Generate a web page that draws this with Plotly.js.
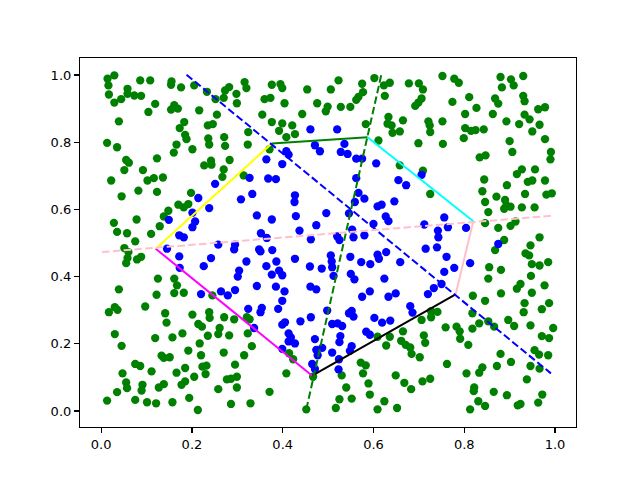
<!DOCTYPE html>
<html>
<head>
<meta charset="utf-8">
<script src="https://cdn.plot.ly/plotly-3.0.1.min.js"></script>
<style>html,body{margin:0;padding:0;background:#fff;}#chart{width:640px;height:480px;}</style>
</head>
<body>
<div id="chart"></div>
<script>
// Outside points (green)
const greenX = [
0.014,0.029,0.016,0.017,0.029,0.044,0.058,0.058,0.073,0.088,0.086,0.108,0.155,0.154,0.176,0.205,0.233,0.119,0.104,0.154,0.161,0.169,0.216,0.039,0.183,0.173,0.185,0.188,0.166,0.160,0.201,0.013,0.035,0.055,0.061,0.051,0.123,0.092,0.102,0.116,0.136,0.227,
0.252,0.273,0.282,0.270,0.298,0.299,0.316,0.320,0.376,0.395,0.399,0.360,0.373,0.404,0.454,0.476,0.495,0.499,0.443,0.355,0.255,0.235,0.246,0.376,0.399,0.421,0.392,0.427,0.408,0.324,0.271,0.273,0.236,0.238,0.323,0.371,0.283,0.242,0.243,0.270,0.267,0.314,
0.523,0.506,0.575,0.602,0.623,0.636,0.577,0.567,0.562,0.625,0.678,0.700,0.709,0.752,0.706,0.699,0.692,0.528,0.549,0.583,0.633,0.631,0.640,0.665,0.642,0.658,0.721,0.724,0.725,0.752,0.699,0.753,0.611,0.658,0.709,
0.778,0.788,0.880,0.903,0.930,0.883,0.909,0.811,0.774,0.827,0.868,0.875,0.930,0.933,0.963,0.978,0.802,0.863,0.933,0.944,0.893,0.921,0.966,0.802,0.815,0.825,0.843,0.799,0.950,0.978,0.900,0.906,0.991,0.990,0.834,0.847,0.927,0.916,0.956,
0.022,0.045,0.082,0.123,0.198,0.148,0.170,0.182,0.192,0.138,0.129,0.110,0.028,0.035,0.057,0.078,0.075,0.051,0.060,0.058,0.055,0.079,0.088,0.125,0.161,0.167,0.182,0.161,0.039,0.122,
0.245,0.725,
0.844,0.894,0.940,0.950,0.978,0.840,0.934,0.981,0.993,0.871,0.846,0.890,0.893,0.902,0.888,0.927,0.955,0.853,0.846,0.875,0.902,0.913,0.888,0.868,0.966,0.946,0.935,0.943,0.985,0.949,0.966,0.855,0.881,0.853,0.947,0.977,0.881,0.916,0.924,0.949,
0.030,0.017,0.036,0.097,0.141,0.144,0.201,0.214,0.222,0.030,0.045,0.119,0.157,0.179,0.217,0.192,0.220,0.133,0.138,0.151,0.075,0.086,0.111,0.047,0.055,0.057,0.091,0.089,0.035,0.013,0.075,0.101,0.121,0.157,0.127,0.138,0.166,0.185,0.205,0.177,0.185,0.194,0.213,0.223,
0.238,0.239,0.271,0.293,0.261,0.258,0.282,0.235,0.321,0.327,0.323,0.332,0.315,0.270,0.295,0.232,0.230,0.277,0.286,0.299,0.299,0.258,0.286,0.329,0.371,0.408,0.414,0.423,0.452,0.467,
0.727,0.741,0.727,0.706,0.759,0.665,0.636,0.628,0.609,0.661,0.671,0.681,0.684,0.702,0.711,0.714,0.762,0.572,0.583,0.577,0.530,0.589,0.540,0.649,0.668,0.683,0.708,0.725,0.592,0.525,0.552,0.517,0.609,0.624,0.652,
0.819,0.846,0.933,0.931,0.971,0.987,0.818,0.833,0.853,0.866,0.897,0.910,0.946,0.996,0.783,0.790,0.818,0.791,0.809,0.971,0.987,0.880,0.903,0.955,0.965,0.985,0.946,0.966,0.840,0.833,0.805,0.872,0.938,0.822,0.821,0.865,0.894,0.972,0.963,0.831,0.846,0.813,0.918,0.924
];
const greenY = [
0.989,0.999,0.969,0.942,0.918,0.928,0.959,0.944,0.939,0.938,0.984,0.984,0.981,0.971,0.963,0.969,0.950,0.914,0.890,0.897,0.910,0.900,0.895,0.862,0.860,0.842,0.822,0.809,0.793,0.769,0.779,0.798,0.785,0.747,0.739,0.717,0.752,0.717,0.686,0.693,0.695,0.731,
0.928,0.954,0.964,0.932,0.944,0.916,0.979,0.961,0.971,0.973,0.961,0.928,0.932,0.916,0.957,0.916,0.892,0.906,0.884,0.882,0.882,0.850,0.854,0.860,0.856,0.850,0.834,0.824,0.815,0.830,0.815,0.789,0.811,0.793,0.793,0.779,0.747,0.745,0.733,0.719,0.697,0.701,
0.984,0.957,0.974,0.991,0.969,0.977,0.949,0.935,0.926,0.938,0.975,0.975,0.957,0.997,0.930,0.918,0.908,0.905,0.905,0.854,0.875,0.855,0.850,0.865,0.828,0.832,0.862,0.850,0.830,0.862,0.797,0.795,0.805,0.731,0.715,
0.989,0.977,0.994,0.987,0.997,0.963,0.969,0.934,0.920,0.902,0.930,0.915,0.938,0.922,0.898,0.904,0.884,0.884,0.882,0.868,0.862,0.854,0.852,0.842,0.834,0.836,0.838,0.812,0.832,0.809,0.803,0.771,0.771,0.749,0.755,0.761,0.719,0.705,0.719,
0.686,0.639,0.656,0.652,0.649,0.596,0.614,0.606,0.616,0.579,0.550,0.527,0.560,0.533,0.529,0.570,0.505,0.485,0.473,0.455,0.440,0.451,0.459,0.394,0.394,0.374,0.352,0.351,0.362,0.346,
0.344,0.646,
0.689,0.672,0.682,0.686,0.686,0.654,0.646,0.644,0.648,0.638,0.622,0.628,0.612,0.608,0.602,0.606,0.606,0.592,0.559,0.545,0.551,0.564,0.509,0.479,0.517,0.493,0.469,0.463,0.443,0.437,0.433,0.428,0.420,0.394,0.402,0.374,0.350,0.364,0.378,0.352,
0.309,0.294,0.301,0.311,0.291,0.263,0.287,0.259,0.251,0.229,0.194,0.217,0.219,0.231,0.201,0.180,0.166,0.165,0.158,0.160,0.140,0.134,0.118,0.112,0.085,0.068,0.078,0.061,0.056,0.031,0.033,0.026,0.023,0.026,0.070,0.080,0.114,0.128,0.102,0.078,0.088,0.039,0.003,0.132,
0.294,0.277,0.279,0.273,0.247,0.229,0.225,0.224,0.279,0.273,0.231,0.193,0.166,0.174,0.138,0.135,0.110,0.094,0.096,0.102,0.070,0.065,0.021,0.023,0.057,0.112,0.172,0.154,0.005,0.102,
0.297,0.295,0.279,0.271,0.249,0.237,0.221,0.195,0.221,0.209,0.197,0.189,0.170,0.160,0.225,0.203,0.140,0.144,0.136,0.112,0.106,0.082,0.070,0.106,0.084,0.065,0.088,0.096,0.049,0.035,0.037,0.009,0.005,0.029,0.009,
0.343,0.328,0.321,0.294,0.303,0.321,0.291,0.261,0.267,0.251,0.271,0.253,0.255,0.247,0.251,0.237,0.245,0.215,0.197,0.223,0.217,0.170,0.146,0.181,0.168,0.166,0.134,0.126,0.130,0.114,0.112,0.134,0.094,0.070,0.059,0.057,0.047,0.049,0.025,0.029,0.015,0.005,0.017,0.021
];
// Inside points (blue)
const blueX = [
0.461,0.471,0.482,0.408,0.413,0.364,0.399,0.327,0.368,0.385,
0.520,0.536,0.528,0.543,0.562,0.575,0.606,0.562,0.655,0.706,
0.214,0.201,0.207,0.201,0.149,0.172,0.182,0.145,0.172,0.173,0.226,0.220,
0.251,0.308,0.333,0.427,0.426,0.238,0.343,0.376,0.429,0.496,0.474,0.437,0.462,0.352,0.365,0.258,0.295,0.293,0.348,0.351,0.377,0.242,0.320,0.386,0.427,0.364,0.392,0.376,0.399,0.304,0.301,0.460,0.486,0.343,0.385,0.295,0.404,0.461,0.474,0.264,0.279,
0.672,0.567,0.580,0.559,0.646,0.609,0.618,0.546,0.627,0.633,0.600,0.712,0.756,0.764,0.742,0.743,0.520,0.525,0.553,0.556,0.580,0.715,0.740,0.761,0.506,0.508,0.549,0.573,0.593,0.609,0.612,0.628,0.659,0.509,0.512,0.550,0.558,0.624,0.756,0.750,0.733,0.720,0.592,0.649,
0.875,0.778,0.813,0.804,
0.324,0.354,0.351,0.337,0.390,0.399,0.405,0.399,0.439,0.462,0.498,0.413,0.418,0.427,0.413,0.399,0.471,0.487,0.474,0.477,0.465,0.471,
0.575,0.633,0.552,0.556,0.546,0.521,0.531,0.509,0.602,0.619,0.637,0.681,0.686,0.584,0.592,0.527,0.525,0.552,0.548,0.509,0.524,0.523
];
const blueY = [
0.838,0.791,0.773,0.773,0.763,0.749,0.735,0.694,0.692,0.690,
0.838,0.795,0.771,0.765,0.751,0.751,0.737,0.693,0.687,0.703,
0.634,0.590,0.564,0.547,0.569,0.523,0.517,0.483,0.460,0.426,0.431,0.348,
0.676,0.630,0.646,0.642,0.622,0.604,0.582,0.570,0.580,0.589,0.553,0.537,0.511,0.529,0.515,0.495,0.495,0.481,0.481,0.475,0.479,0.455,0.445,0.445,0.453,0.431,0.418,0.406,0.404,0.418,0.400,0.430,0.424,0.372,0.370,0.360,0.356,0.370,0.362,0.356,0.344,
0.672,0.649,0.632,0.622,0.624,0.609,0.614,0.588,0.579,0.565,0.557,0.555,0.576,0.547,0.537,0.517,0.520,0.509,0.540,0.517,0.523,0.483,0.487,0.459,0.463,0.445,0.459,0.443,0.437,0.465,0.453,0.473,0.443,0.428,0.402,0.408,0.392,0.394,0.414,0.378,0.366,0.348,0.356,0.350,
0.497,0.426,0.440,0.545,
0.304,0.307,0.294,0.247,0.304,0.328,0.264,0.257,0.267,0.279,0.299,0.231,0.219,0.201,0.207,0.185,0.214,0.188,0.182,0.166,0.140,0.125,
0.340,0.340,0.298,0.281,0.291,0.261,0.253,0.259,0.277,0.263,0.269,0.312,0.293,0.236,0.227,0.223,0.205,0.193,0.179,0.174,0.154,0.124
];
// Polygon vertices (edge i goes from vertex i to vertex i+1)
const polyX = [0.120, 0.376, 0.587, 0.820, 0.781, 0.465, 0.120];
const polyY = [0.483, 0.796, 0.815, 0.565, 0.347, 0.105, 0.483];
const edgeColors = ['yellow', 'green', 'cyan', 'pink', 'black', 'magenta'];
// Dashed lines (endpoints)
const dashLines = [
  {x: [0.188, 0.991], y: [1.001, 0.112], color: 'blue'},
  {x: [0.617, 0.452], y: [0.999, 0.005], color: 'green'},
  {x: [0.002, 0.991], y: [0.473, 0.581], color: 'pink'}
];

const traces = [];
traces.push({x: greenX, y: greenY, type: 'scatter', mode: 'markers', marker: {color: 'green', size: 8.3, line: {width: 0}}, hoverinfo: 'none'});
traces.push({x: blueX, y: blueY, type: 'scatter', mode: 'markers', marker: {color: 'blue', size: 8.3, line: {width: 0}}, hoverinfo: 'none'});
for (let i = 0; i < edgeColors.length; i++) {
  traces.push({x: [polyX[i], polyX[i+1]], y: [polyY[i], polyY[i+1]], type: 'scatter', mode: 'lines', line: {color: edgeColors[i], width: 2}, hoverinfo: 'none'});
}
dashLines.forEach(d => traces.push({x: d.x, y: d.y, type: 'scatter', mode: 'lines', line: {color: d.color, width: 2, dash: '7.5px,3.3px'}, hoverinfo: 'none'}));

const axisCommon = {
  showgrid: false, zeroline: false, showline: true, mirror: true,
  linecolor: 'black', linewidth: 1.1, ticks: 'outside', ticklen: 5, tickwidth: 1.1, tickcolor: 'black',
  tickvals: [0, 0.2, 0.4, 0.6, 0.8, 1.0], ticktext: ['0.0', '0.2', '0.4', '0.6', '0.8', '1.0'],
  tickfont: {family: 'DejaVu Sans', size: 13, color: 'black'}
};
const layout = {
  width: 640, height: 480, showlegend: false,
  paper_bgcolor: 'white', plot_bgcolor: 'white',
  margin: {l: 80, r: 64, t: 58, b: 53},
  xaxis: Object.assign({range: [-0.0467, 1.0463]}, axisCommon),
  yaxis: Object.assign({range: [-0.0476, 1.0506]}, axisCommon)
};
Plotly.newPlot('chart', traces, layout, {staticPlot: true, displayModeBar: false});
</script>
</body>
</html>
